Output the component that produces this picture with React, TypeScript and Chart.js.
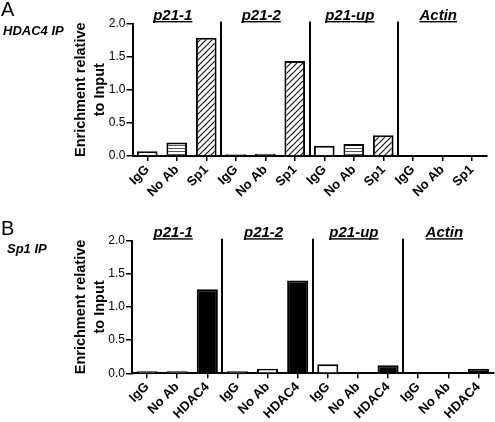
import React, { useEffect, useRef } from 'react';
import { Chart, registerables } from 'chart.js';

Chart.register(...registerables);

const FONT = '"Liberation Sans", Arial, Helvetica, sans-serif';

// Groups (gene regions) and bar categories
const groups = ['p21-1', 'p21-2', 'p21-up', 'Actin'];
const labelsA = ['IgG', 'No Ab', 'Sp1'];
const labelsB = ['IgG', 'No Ab', 'HDAC4'];
const yTicks = [0, 0.5, 1.0, 1.5, 2.0];
const yTitle = ['Enrichment relative', 'to Input'];

// Panel A: HDAC4 IP
const hdac4IgG = [0.07, 0.025, 0.155, 0];
const hdac4NoAb = [0.205, 0.035, 0.18, 0];
const hdac4Sp1 = [1.785, 1.435, 0.315, 0];

// Panel B: Sp1 IP
const sp1IgG = [0.03, 0.03, 0.136, 0];
const sp1NoAb = [0.03, 0.07, 0, 0];
const sp1HDAC4 = [1.267, 1.4, 0.12, 0.07];

function hLinePattern(ctx: CanvasRenderingContext2D) {
  const c = document.createElement('canvas');
  c.width = 8;
  c.height = 3;
  const g = c.getContext('2d')!;
  g.fillStyle = '#fff';
  g.fillRect(0, 0, 8, 3);
  g.fillStyle = '#555';
  g.fillRect(0, 1, 8, 1);
  return ctx.createPattern(c, 'repeat')!;
}

function diagPattern(ctx: CanvasRenderingContext2D) {
  const s = 6;
  const c = document.createElement('canvas');
  c.width = s;
  c.height = s;
  const g = c.getContext('2d')!;
  g.fillStyle = '#fff';
  g.fillRect(0, 0, s, s);
  g.strokeStyle = '#111';
  g.lineWidth = 1.1;
  g.beginPath();
  g.moveTo(-1, s + 1);
  g.lineTo(s + 1, -1);
  g.moveTo(-2, 2);
  g.lineTo(2, -2);
  g.moveTo(s - 2, s + 2);
  g.lineTo(s + 2, s - 2);
  g.stroke();
  return ctx.createPattern(c, 'repeat')!;
}

const groupDecor = {
  id: 'groupDecor',
  afterDatasetsDraw(chart: any) {
    const { ctx, chartArea, scales } = chart;
    const x = scales.x;
    ctx.save();
    ctx.strokeStyle = '#000';
    ctx.lineWidth = 2;
    for (let g = 1; g < groups.length; g++) {
      const px = Math.round((x.getPixelForValue(g * 3 - 1) + x.getPixelForValue(g * 3)) / 2);
      ctx.beginPath();
      ctx.moveTo(px, chartArea.top - 2);
      ctx.lineTo(px, chartArea.bottom);
      ctx.stroke();
    }
    ctx.font = `italic bold 15px ${FONT}`;
    ctx.fillStyle = '#000';
    ctx.textAlign = 'center';
    ctx.textBaseline = 'alphabetic';
    groups.forEach((name, g) => {
      const cx = x.getPixelForValue(g * 3 + 1) - 4;
      const by = chartArea.top - 4;
      ctx.fillText(name, cx, by);
      const w = ctx.measureText(name).width;
      ctx.fillRect(cx - w / 2, by + 1.5, w, 1.4);
    });
    ctx.restore();
  },
};

type Spec = {
  labels: string[];
  series: number[][];
  fills: ((ctx: CanvasRenderingContext2D) => any)[];
  top: number;
  right: number;
  yWidth: number;
  xHeight: number;
};

const specA: Spec = {
  labels: labelsA,
  series: [hdac4IgG, hdac4NoAb, hdac4Sp1],
  fills: [() => '#fff', hLinePattern, diagPattern],
  top: 23.5,
  right: 8.5,
  yWidth: 132.5,
  xHeight: 49,
};

const specB: Spec = {
  labels: labelsB,
  series: [sp1IgG, sp1NoAb, sp1HDAC4],
  fills: [() => '#fff', () => '#fff', () => '#000'],
  top: 35.7,
  right: 1.5,
  yWidth: 132,
  xHeight: 48.7,
};

function buildChart(canvas: HTMLCanvasElement, spec: Spec) {
  const ctx = canvas.getContext('2d')!;
  const cats = groups.flatMap(() => spec.labels);
  const datasets = spec.series.map((values, k) => ({
    label: spec.labels[k],
    data: cats.map((_, i) => (i % 3 === k ? values[Math.floor(i / 3)] : null)),
    backgroundColor: spec.fills[k](ctx),
    borderColor: '#000',
    borderWidth: 2,
    borderSkipped: 'start',
    barPercentage: 0.7,
    categoryPercentage: 1,
  }));
  return new Chart(ctx, {
    type: 'bar',
    data: { labels: cats, datasets: datasets as any },
    plugins: [groupDecor],
    options: {
      animation: false,
      responsive: false,
      events: [],
      layout: { padding: { top: spec.top, right: spec.right, left: 0, bottom: 0 } },
      plugins: { legend: { display: false }, tooltip: { enabled: false } },
      scales: {
        x: {
          stacked: true,
          offset: true,
          grid: {
            display: true,
            drawOnChartArea: false,
            offset: false,
            drawTicks: true,
            tickLength: 5,
            color: '#000',
            lineWidth: 1.5,
          },
          border: { display: true, color: '#000', width: 2 },
          ticks: {
            autoSkip: false,
            maxRotation: 45,
            minRotation: 45,
            color: '#000',
            padding: 1,
            font: { family: FONT, size: 13, weight: 'bold' },
          },
          afterFit: (s: any) => {
            s.height = spec.xHeight;
          },
        },
        y: {
          stacked: true,
          min: 0,
          max: 2,
          afterBuildTicks: (s: any) => {
            s.ticks = yTicks.map((v) => ({ value: v }));
          },
          ticks: {
            color: '#000',
            padding: 1,
            font: { family: FONT, size: 12 },
            callback: (v: any) => Number(v).toFixed(1),
          },
          grid: {
            display: true,
            drawOnChartArea: false,
            tickLength: 6,
            color: '#000',
            lineWidth: 1.5,
          },
          border: { display: true, color: '#000', width: 2 },
          title: {
            display: true,
            text: yTitle,
            color: '#000',
            font: { family: FONT, size: 14.5, weight: 'bold', lineHeight: 1.3 },
            padding: { top: 72, bottom: 0 },
          },
          afterFit: (s: any) => {
            s.width = spec.yWidth;
          },
        },
      },
    } as any,
  });
}

export default function App() {
  const refA = useRef<HTMLCanvasElement>(null);
  const refB = useRef<HTMLCanvasElement>(null);
  useEffect(() => {
    const a = buildChart(refA.current!, specA);
    const b = buildChart(refB.current!, specB);
    return () => {
      a.destroy();
      b.destroy();
    };
  }, []);
  const abs = { position: 'absolute' as const };
  return (
    <div style={{ ...abs, left: 0, top: 0, width: 495, height: 422, background: '#fff', fontFamily: FONT, color: '#000' }}>
      <canvas ref={refA} width={495} height={205} style={{ ...abs, left: 0, top: 0 }} />
      <canvas ref={refB} width={495} height={217} style={{ ...abs, left: 0, top: 205 }} />
      <div style={{ ...abs, left: 1, top: -1, fontSize: 20, lineHeight: '20px' }}>A</div>
      <div style={{ ...abs, left: 3, top: 23.5, fontSize: 13, lineHeight: '13px', fontWeight: 'bold', fontStyle: 'italic', whiteSpace: 'nowrap' }}>HDAC4 IP</div>
      <div style={{ ...abs, left: 1, top: 217.5, fontSize: 20, lineHeight: '20px' }}>B</div>
      <div style={{ ...abs, left: 7, top: 241.5, fontSize: 13, lineHeight: '13px', fontWeight: 'bold', fontStyle: 'italic', whiteSpace: 'nowrap' }}>Sp1 IP</div>
    </div>
  );
}
